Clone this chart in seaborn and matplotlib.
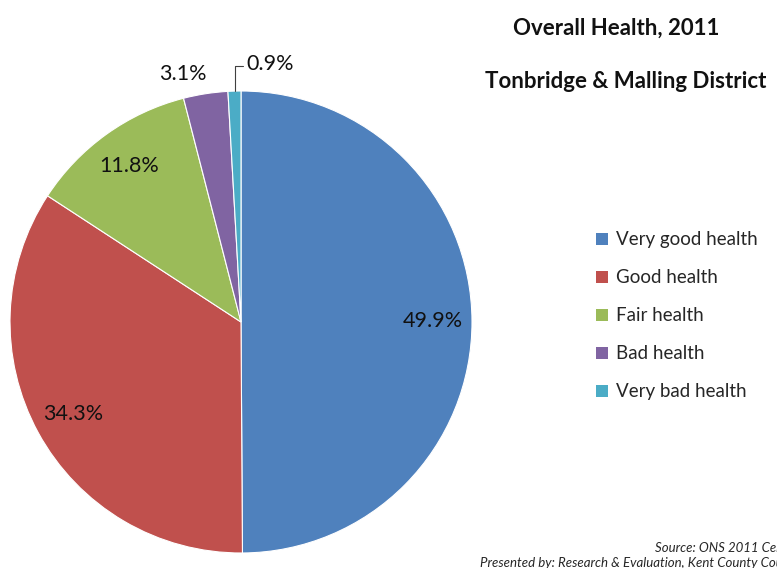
import matplotlib
matplotlib.use("Agg")
import matplotlib.pyplot as plt
from matplotlib.patches import Patch
import seaborn as sns

#data
categories = ["Very good health", "Good health", "Fair health", "Bad health", "Very bad health"]
shares = [49.9, 34.3, 11.8, 3.1, 0.9]
colours = ["#4F81BD", "#C0504D", "#9BBB59", "#8064A2", "#4BACC6"]

sns.set_theme(style="white")
plt.rcParams['font.family'] = ['Lato', 'DejaVu Sans']

fig = plt.figure(figsize=(7.77, 5.68), dpi=100)
ax = fig.add_axes([10/777, 15/568, 462/777, 462/568])

#pie drawn clockwise from 12 o'clock
wedges, texts, autotexts = ax.pie(
    shares, colors=colours, startangle=90, counterclock=False,
    autopct=lambda p: "%.1f%%" % p if p > 5 else "",
    pctdistance=0.83, radius=1,
    wedgeprops=dict(edgecolor="white", linewidth=0.8),
    textprops=dict(fontsize=15.5, color="#111111"))
ax.set_xlim(-1, 1)
ax.set_ylim(-1, 1)
ax.set_aspect("equal")

#small slices labelled outside
ax.text(-0.25, 1.075, "3.1%", fontsize=15.5, ha="center", va="center", color="#111111")
ax.plot([-0.025, -0.025, 0.01], [1.0, 1.11, 1.11], color="#404040", lw=0.8, clip_on=False)
ax.text(0.025, 1.115, "0.9%", fontsize=15.5, ha="left", va="center", color="#111111")

#titles
fig.text(616/777, 1 - 28/568, "Overall Health, 2011", fontsize=16, fontweight="bold",
         ha="center", va="center", color="#111111")
fig.text(485/777, 1 - 82/568, "Tonbridge & Malling District", fontsize=16, fontweight="bold",
         ha="left", va="center", color="#111111")

#legend
handles = [Patch(facecolor=c, edgecolor="none") for c in colours]
fig.legend(handles, categories, loc="upper left", bbox_to_anchor=(588/777, 1 - 224/568),
           frameon=False, fontsize=13.5, handlelength=0.65, handleheight=0.65,
           handletextpad=0.45, labelspacing=1.12, borderaxespad=0)

#source notes, running off the right edge as in the original
fig.text(655/777, 1 - 548/568, "Source: ONS 2011 Census", fontsize=9.5, style="italic",
         ha="left", va="center")
fig.text(480/777, 1 - 563/568, "Presented by: Research & Evaluation, Kent County Council",
         fontsize=9.5, style="italic", ha="left", va="center")

fig.savefig("out.png", dpi=100)
